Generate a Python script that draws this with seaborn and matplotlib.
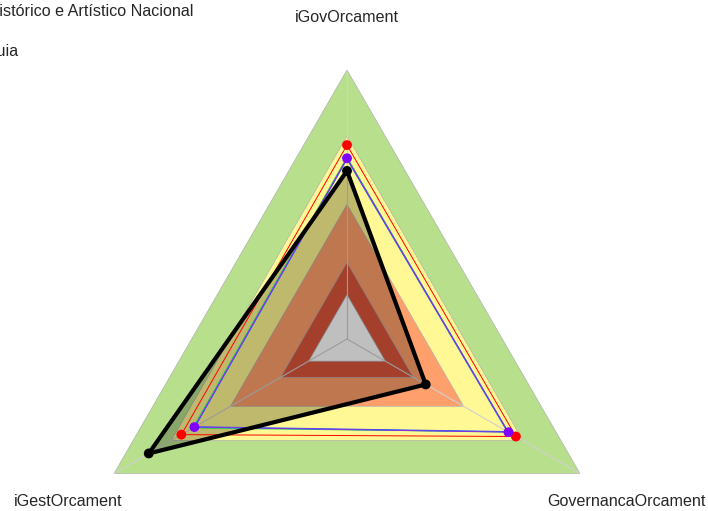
import matplotlib.pyplot as plt
import numpy as np
import seaborn as sns

# ── dados ─────────────────────────────────────────────────────────
categorias = ["iGovOrcament", "GovernancaOrcament", "iGestOrcament"]

# faixas de fundo (limite externo de cada faixa)
faixas_lim = [1.0, 0.755, 0.5, 0.285, 0.165]
faixas_cor = ["#B8E08C", "#FFF894", "#FFA06C", "#DC553C", "#FFFFFF"]

# séries (ordem: iGovOrcament, GovernancaOrcament, iGestOrcament)
serie_vermelha = [0.721, 0.725, 0.711]
serie_roxa = [0.672, 0.693, 0.655]
serie_azul = [0.668, 0.688, 0.652]
serie_verde = [0.676, 0.690, 0.662]
serie_ciano = [0.670, 0.691, 0.657]
serie_preta = [0.625, 0.338, 0.851]

legenda = [
    "Instituto do Patrimônio Histórico e Artístico Nacional",
    "Guia",
]

sns.set_theme(style="white")
plt.rcParams["font.family"] = ["Liberation Sans", "DejaVu Sans"]

W, H = 708, 511
fig = plt.figure(figsize=(W / 100, H / 100), dpi=100, facecolor="white")

# centro do radar em (347, 339) px, raio 269 px
cx, cy, R = 347, 339, 269
ax = fig.add_axes(
    [(cx - R) / W, (H - cy - R) / H, 2 * R / W, 2 * R / H], projection="polar"
)
ax.set_theta_zero_location("N")
ax.set_theta_direction(-1)
ax.set_ylim(0, 1)
ax.axis("off")

ang = np.linspace(0, 2 * np.pi, len(categorias) + 1)


def fechar(v):
    return list(v) + [v[0]]


# faixas
for lim, cor in zip(faixas_lim, faixas_cor):
    ax.fill(ang, [lim] * len(ang), color=cor, edgecolor="#B0B0B0",
            linewidth=0.5, zorder=1)

# eixos radiais
for a in ang[:-1]:
    ax.plot([a, a], [0, 1], color="#D0D0D0", linewidth=0.8, zorder=2)

# preenchimento da série preta
ax.fill(ang, fechar(serie_preta), color="black", alpha=0.25, linewidth=0, zorder=3)

# linhas finas
for vals, cor in [
    (serie_verde, "#33CC33"),
    (serie_ciano, "#00CCCC"),
    (serie_azul, "#3355FF"),
    (serie_roxa, "#8A2BE2"),
    (serie_vermelha, "#FF0000"),
]:
    sns.lineplot(x=ang, y=fechar(vals), sort=False, estimator=None, ax=ax,
                 color=cor, linewidth=0.7, zorder=4)

sns.lineplot(x=ang, y=fechar(serie_preta), sort=False, estimator=None, ax=ax,
             color="black", linewidth=3.0, zorder=5)

# marcadores
for vals, cor in [(serie_vermelha, "#FF0000"), (serie_roxa, "#8000FF"),
                  (serie_preta, "black")]:
    sns.scatterplot(x=ang[:-1], y=vals, ax=ax, color=cor, s=50,
                    edgecolor="none", zorder=6, clip_on=False)

ax.set_xlabel("")
ax.set_ylabel("")

# rótulos das variáveis
fs = 11.6
fig.text(cx / W, 1 - 18 / H, categorias[0], ha="center", va="center", fontsize=fs)
fig.text(706 / W, 1 - 501 / H, categorias[1], ha="right", va="center", fontsize=fs)
fig.text(68 / W, 1 - 501 / H, categorias[2], ha="center", va="center", fontsize=fs)

# legenda (cortada na borda esquerda, como no original)
fig.text(193 / W, 1 - 11 / H, legenda[0], ha="right", va="center", fontsize=fs)
fig.text(18 / W, 1 - 51 / H, legenda[1], ha="right", va="center", fontsize=fs)

fig.savefig("out.png", dpi=100, facecolor="white")
